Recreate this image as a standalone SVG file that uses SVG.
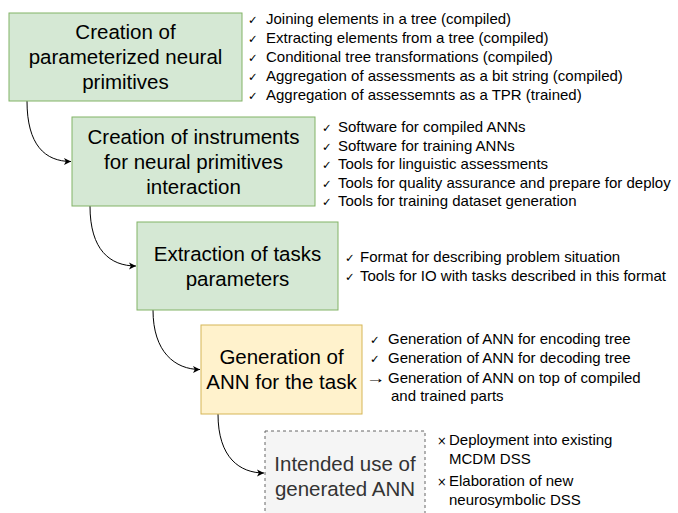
<svg xmlns="http://www.w3.org/2000/svg" width="678" height="513" viewBox="0 0 678 513">
<style>
.g{fill:#d5e8d4;stroke:#82b366;stroke-width:1}
.y{fill:#fff2cc;stroke:#d6b656;stroke-width:1}
.d{fill:#f5f5f5;stroke:#666666;stroke-width:1;stroke-dasharray:3 3}
.t{font-family:"Liberation Sans",Arial,sans-serif;font-size:20.5px;fill:#000;text-anchor:middle}
.td{fill:#333333}
.l{font-family:"Liberation Sans",Arial,sans-serif;font-size:15px;fill:#000}
.c{font-family:"DejaVu Sans",sans-serif;font-size:11.5px;fill:#000}
.ar{font-family:"Liberation Sans",Arial,sans-serif;font-size:15px;fill:#000}
.e{fill:none;stroke:#000;stroke-width:1}
</style>
<defs>
<marker id="a" markerWidth="10" markerHeight="10" refX="7" refY="4" orient="auto" markerUnits="userSpaceOnUse">
<path d="M0,0.5 L7,4 L0,7.5 L1.8,4 Z" fill="#000"/>
</marker>
</defs>
<g id="connectors">
<path class="e" d="M27 101 C27 145 45 161.5 71 161.5" marker-end="url(#a)"/>
<path class="e" d="M90 206 C90 250 110 266 136 266" marker-end="url(#a)"/>
<path class="e" d="M153 310 C153 352 175 369.5 200 369.5" marker-end="url(#a)"/>
<path class="e" d="M218 414 C218 458 240 473 264 473" marker-end="url(#a)"/>
</g>
<g id="n1">
<rect class="g" x="9" y="13" width="233" height="88"/>
<text class="t" x="125.5" y="39">Creation of</text>
<text class="t" x="125.5" y="64">parameterized neural</text>
<text class="t" x="125.5" y="89">primitives</text>
</g>
<g id="l1">
<text class="c" x="248" y="24">✓</text><text class="l" x="266" y="24">Joining elements in a tree (compiled)</text>
<text class="c" x="248" y="43">✓</text><text class="l" x="266" y="43">Extracting elements from a tree (compiled)</text>
<text class="c" x="248" y="62">✓</text><text class="l" x="266" y="62">Conditional tree transformations (compiled)</text>
<text class="c" x="248" y="81">✓</text><text class="l" x="266" y="81">Aggregation of assessments as a bit string (compiled)</text>
<text class="c" x="248" y="100">✓</text><text class="l" x="266" y="100">Aggregation of assessemnts as a TPR (trained)</text>
</g>
<g id="n2">
<rect class="g" x="72" y="117" width="243" height="89"/>
<text class="t" x="193.5" y="143.5">Creation of instruments</text>
<text class="t" x="193.5" y="168.5">for neural primitives</text>
<text class="t" x="193.5" y="193.5">interaction</text>
</g>
<g id="l2">
<text class="c" x="322" y="132">✓</text><text class="l" x="338" y="132">Software for compiled ANNs</text>
<text class="c" x="322" y="150.5">✓</text><text class="l" x="338" y="150.5">Software for training ANNs</text>
<text class="c" x="322" y="169">✓</text><text class="l" x="338" y="169">Tools for linguistic assessments</text>
<text class="c" x="322" y="187.5">✓</text><text class="l" x="338" y="187.5">Tools for quality assurance and prepare for deploy</text>
<text class="c" x="322" y="206">✓</text><text class="l" x="338" y="206">Tools for training dataset generation</text>
</g>
<g id="n3">
<rect class="g" x="137" y="222" width="201" height="88"/>
<text class="t" x="237.5" y="260.5">Extraction of tasks</text>
<text class="t" x="237.5" y="285.5">parameters</text>
</g>
<g id="l3">
<text class="c" x="345" y="262">✓</text><text class="l" x="360" y="262">Format for describing problem situation</text>
<text class="c" x="345" y="281">✓</text><text class="l" x="360" y="281">Tools for IO with tasks described in this format</text>
</g>
<g id="n4">
<rect class="y" x="201" y="325" width="161" height="89"/>
<text class="t" x="281.5" y="364">Generation of</text>
<text class="t" x="281.5" y="389">ANN for the task</text>
</g>
<g id="l4">
<text class="c" x="370" y="344">✓</text><text class="l" x="388" y="344">Generation of ANN for encoding tree</text>
<text class="c" x="370" y="363">✓</text><text class="l" x="388" y="363">Generation of ANN for decoding tree</text>
<text class="ar" transform="translate(366,383) scale(1.3,1)">→</text><text class="l" x="388" y="383">Generation of ANN on top of compiled</text>
<text class="l" x="391" y="401">and trained parts</text>
</g>
<g id="n5">
<rect class="d" x="265" y="431" width="160" height="90"/>
<text class="t td" x="345" y="470.5">Intended use of</text>
<text class="t td" x="345" y="495.5">generated ANN</text>
</g>
<g id="l5">
<text class="c" x="437" y="445">×</text><text class="l" x="449" y="445">Deployment into existing</text>
<text class="l" x="449" y="464">MCDM DSS</text>
<text class="c" x="437" y="486">×</text><text class="l" x="449" y="486">Elaboration of new</text>
<text class="l" x="449" y="505">neurosymbolic DSS</text>
</g>
</svg>
